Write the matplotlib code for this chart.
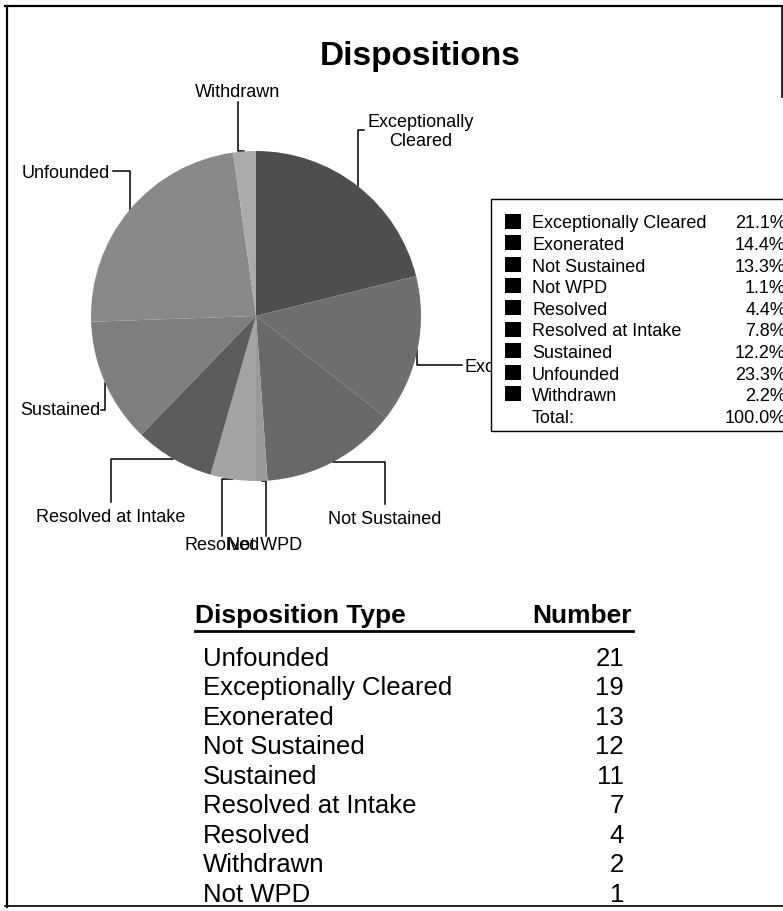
import numpy as np
import matplotlib
matplotlib.use("Agg")
import matplotlib.pyplot as plt
from matplotlib.patches import Rectangle

plt.rcParams['font.family'] = ['Liberation Sans', 'DejaVu Sans']

# ---- data ----
categories = ["Exceptionally Cleared", "Exonerated", "Not Sustained", "Not WPD",
              "Resolved", "Resolved at Intake", "Sustained", "Unfounded", "Withdrawn"]
counts = [19, 13, 12, 1, 4, 7, 11, 21, 2]
slice_colors = ["#4e4e4e", "#6f6f6f", "#696969", "#9a9a9a", "#a4a4a4",
                "#5c5c5c", "#7e7e7e", "#898989", "#ababab"]
title = "Dispositions"
table_headers = ["Disposition Type", "Number"]
legend_total_label = "Total:"

W, H = 783, 912
fig = plt.figure(figsize=(W / 100, H / 100), dpi=100)
fig.patch.set_facecolor("white")

# overlay axes in pixel coordinates
ax0 = fig.add_axes([0, 0, 1, 1])
ax0.set_xlim(0, W)
ax0.set_ylim(H, 0)
ax0.axis("off")

# pie axes (square box, centre (256,317), radius 165 px)
cx, cy, r = 256, 317, 165
axp = fig.add_axes([(cx - r) / W, (H - cy - r) / H, 2 * r / W, 2 * r / H])
wedges, _ = axp.pie(counts, colors=slice_colors, startangle=90, counterclock=False,
                    wedgeprops=dict(linewidth=0), frame=False)
axp.set_xlim(-1, 1)
axp.set_ylim(-1, 1)
axp.axis("off")

def anchor(w):
    t = np.deg2rad((w.theta1 + w.theta2) / 2)
    disp = axp.transData.transform((np.cos(t), np.sin(t)))
    return ax0.transData.inverted().transform(disp)

# title
ax0.text(420, 65, title, ha="center", va="baseline", fontsize=24, fontweight="bold")

# pie labels with elbow leaders (layout per label)
lab_fs = 13
lc = dict(color="black", lw=1.1)
A = {c: anchor(w) for c, w in zip(categories, wedges)}

def leader(pts):
    xs, ys = zip(*pts)
    ax0.plot(xs, ys, **lc, zorder=3)

a = A["Exceptionally Cleared"]
leader([a, (a[0], 131), (a[0] + 6, 131)])
ax0.text(421, 132, "Exceptionally\nCleared", ha="center", va="center", fontsize=lab_fs,
         linespacing=1.1)

a = A["Exonerated"]
leader([a, (a[0], 366), (462, 366)])
ax0.text(465, 372, "Exonerated", ha="left", va="baseline", fontsize=lab_fs, zorder=2)

a = A["Not Sustained"]
leader([a, (385, a[1]), (385, 505)])
ax0.text(385, 524, "Not Sustained", ha="center", va="baseline", fontsize=lab_fs)

a = A["Not WPD"]
leader([a, (266, a[1]), (266, 537)])
ax0.text(265, 550, "Not WPD", ha="center", va="baseline", fontsize=lab_fs)

a = A["Resolved"]
leader([a, (222, a[1]), (222, 537)])
ax0.text(222, 550, "Resolved", ha="center", va="baseline", fontsize=lab_fs)

a = A["Resolved at Intake"]
leader([a, (111, a[1]), (111, 503)])
ax0.text(111, 522, "Resolved at Intake", ha="center", va="baseline", fontsize=lab_fs)

a = A["Sustained"]
leader([a, (a[0], 411), (101, 411)])
ax0.text(100, 415, "Sustained", ha="right", va="baseline", fontsize=lab_fs)

a = A["Unfounded"]
leader([a, (a[0], 172), (113, 172)])
ax0.text(110, 178, "Unfounded", ha="right", va="baseline", fontsize=lab_fs)

a = A["Withdrawn"]
leader([a, (238, a[1]), (238, 103)])
ax0.text(238, 97, "Withdrawn", ha="center", va="baseline", fontsize=lab_fs)

# legend box
total = sum(counts)
ax0.add_patch(Rectangle((491, 200), 320, 232, facecolor="white", edgecolor="black",
                        lw=1.0, zorder=5))
y0, dy = 222, 21.6
for i, (c, n) in enumerate(zip(categories, counts)):
    y = y0 + i * dy
    ax0.add_patch(Rectangle((505, y - 7.5), 16, 15, facecolor="black", edgecolor="none", zorder=6))
    ax0.text(532, y + 6.5, c, ha="left", va="baseline", fontsize=13, zorder=6)
    ax0.text(786, y + 6.5, f"{100 * n / total:.1f}%", ha="right", va="baseline",
             fontsize=13, zorder=6)
yt = y0 + len(categories) * dy
ax0.text(532, yt + 6.5, legend_total_label, ha="left", va="baseline", fontsize=13, zorder=6)
ax0.text(786, yt + 6.5, f"{100 * total / total:.1f}%", ha="right", va="baseline",
         fontsize=13, zorder=6)

# table
ax0.text(195, 623, table_headers[0], ha="left", va="baseline", fontsize=19, fontweight="bold")
ax0.text(632, 623, table_headers[1], ha="right", va="baseline", fontsize=19, fontweight="bold")
ax0.plot([195, 633], [632, 632], color="black", lw=2.0)
order = sorted(range(len(counts)), key=lambda i: -counts[i])
for k, i in enumerate(order):
    yb = 666 + k * 29.5
    ax0.text(203, yb, categories[i], ha="left", va="baseline", fontsize=18.5)
    ax0.text(624, yb, str(counts[i]), ha="right", va="baseline", fontsize=18.5)

# outer frame
ax0.plot([5, W], [7, 7], color="black", lw=1.6)
ax0.plot([7, 7], [7, 908], color="black", lw=1.6)
ax0.plot([5, W], [907, 907], color="black", lw=1.2)
ax0.plot([782, 782], [8, 98], color="black", lw=1.2)

fig.savefig("out.png", dpi=100)
